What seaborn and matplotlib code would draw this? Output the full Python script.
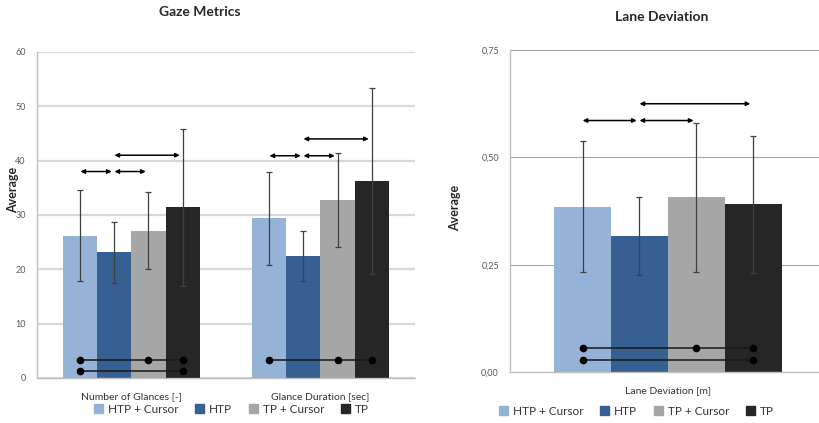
import numpy as np
import pandas as pd
import matplotlib
matplotlib.use('Agg')
import matplotlib.pyplot as plt
from matplotlib.ticker import MultipleLocator, FuncFormatter
import seaborn as sns

# --- Data ---
conditions = ['HTP + Cursor', 'HTP', 'TP + Cursor', 'TP']
colors = ['#95b3d7', '#366092', '#a6a6a6', '#262626']

gaze_metrics = ['Number of Glances [-]', 'Glance Duration [sec]']
glances_mean = [26.2, 23.1, 27.1, 31.4]
glances_err = [8.4, 5.7, 7.1, 14.5]
duration_mean = [29.4, 22.5, 32.8, 36.3]
duration_err = [8.6, 4.6, 8.6, 17.1]

lane_metrics = ['Lane Deviation [m]']
lane_mean = [0.386, 0.318, 0.407, 0.391]
lane_err = [0.153, 0.091, 0.173, 0.160]

# significance arrows: (metric, from condition, to condition, height)
gaze_arrows = [
    ('Number of Glances [-]', 'HTP + Cursor', 'HTP', 38.0),
    ('Number of Glances [-]', 'HTP', 'TP + Cursor', 38.0),
    ('Number of Glances [-]', 'HTP', 'TP', 41.0),
    ('Glance Duration [sec]', 'HTP + Cursor', 'HTP', 40.9),
    ('Glance Duration [sec]', 'HTP', 'TP + Cursor', 40.9),
    ('Glance Duration [sec]', 'HTP', 'TP', 44.0),
]
lane_arrows = [
    ('Lane Deviation [m]', 'HTP + Cursor', 'HTP', 0.586),
    ('Lane Deviation [m]', 'HTP', 'TP + Cursor', 0.586),
    ('Lane Deviation [m]', 'HTP', 'TP', 0.625),
]

# connected dots: (metric, conditions, height)
gaze_dots = [
    ('Number of Glances [-]', ['HTP + Cursor', 'TP + Cursor', 'TP'], 3.3),
    ('Number of Glances [-]', ['HTP + Cursor', 'TP'], 1.2),
    ('Glance Duration [sec]', ['HTP + Cursor', 'TP + Cursor', 'TP'], 3.3),
]
lane_dots = [
    ('Lane Deviation [m]', ['HTP + Cursor', 'TP + Cursor', 'TP'], 0.057),
    ('Lane Deviation [m]', ['HTP + Cursor', 'TP'], 0.030),
]

gaze_df = pd.DataFrame({
    'metric': np.repeat(gaze_metrics, 4),
    'condition': conditions * 2,
    'mean': glances_mean + duration_mean,
    'err': glances_err + duration_err,
})
lane_df = pd.DataFrame({
    'metric': lane_metrics * 4,
    'condition': conditions,
    'mean': lane_mean,
    'err': lane_err,
})

sns.set_style('white')
plt.rcParams['font.family'] = ['Lato', 'DejaVu Sans']

fig = plt.figure(figsize=(8.2, 4.23), dpi=100)
ax1 = fig.add_axes([0.0451, 0.1064, 0.461, 0.7707])
ax2 = fig.add_axes([0.622, 0.1194, 0.385, 0.7624])


def draw_panel(ax, df, metrics, arrows, dots, grid_color, grid_lw):
    sns.barplot(data=df, x='metric', y='mean', hue='condition', order=metrics,
                hue_order=conditions, palette=colors, saturation=1,
                width=0.72, errorbar=None, linewidth=0, ax=ax, zorder=2)
    centers = {}
    for cond, cont in zip(conditions, ax.containers):
        for metric, bar in zip(metrics, cont):
            cx = bar.get_x() + bar.get_width() / 2
            centers[(metric, cond)] = cx
            err = df[(df.metric == metric) & (df.condition == cond)]['err'].iloc[0]
            ax.errorbar(cx, bar.get_height(), yerr=err, color='#404040',
                        lw=0.9, capsize=2, capthick=0.9, zorder=3)
    for metric, a, b, y in arrows:
        ax.annotate('', xy=(centers[(metric, b)], y), xytext=(centers[(metric, a)], y),
                    arrowprops=dict(arrowstyle='<|-|>', color='black', lw=1.1,
                                    mutation_scale=6, shrinkA=0, shrinkB=2),
                    zorder=4)
    for metric, conds, y in dots:
        xs = [centers[(metric, c)] for c in conds]
        ax.plot([xs[0], xs[-1]], [y, y], color='#1a1a1a', lw=1.4, alpha=0.8, zorder=4)
        ax.plot(xs, [y] * len(xs), ls='none', marker='o', ms=4.5, color='black', zorder=5)
    ax.set_xlim(-0.5, len(metrics) - 0.5)
    ax.set_xlabel('')
    ax.set_ylabel('')
    ax.legend_.remove()
    ax.yaxis.grid(True, color=grid_color, lw=grid_lw, zorder=0)
    ax.set_axisbelow(True)
    for s in ['top', 'right']:
        ax.spines[s].set_visible(False)
    for s in ['left', 'bottom']:
        ax.spines[s].set_color('#bfbfbf')
        ax.spines[s].set_linewidth(1.0)
    ax.tick_params(axis='x', length=0, pad=10, labelsize=7.5, labelcolor='#333333')
    ax.set_xticks(np.arange(len(metrics) + 1) - 0.5, minor=True)
    ax.tick_params(axis='x', which='minor', length=4, color='#bfbfbf', direction='out')
    ax.tick_params(axis='y', length=0, pad=8, labelsize=6.5, labelcolor='#595959')
    ax.tick_params(axis='y', which='minor', length=2, color='#bfbfbf', direction='in')


draw_panel(ax1, gaze_df, gaze_metrics, gaze_arrows, gaze_dots, '#d9d9d9', 1.6)
ax1.set_ylim(0, 60)
ax1.set_yticks(range(0, 61, 10))
ax1.yaxis.set_minor_locator(MultipleLocator(2))

draw_panel(ax2, lane_df, lane_metrics, lane_arrows, lane_dots, '#a6a6a6', 0.8)
ax2.set_ylim(0, 0.75)
ax2.set_yticks([0, 0.25, 0.5, 0.75])
ax2.yaxis.set_major_formatter(FuncFormatter(lambda v, p: f'{v:.2f}'.replace('.', ',')))
ax2.yaxis.set_minor_locator(MultipleLocator(0.1))

fig.text(0.244, 0.972, 'Gaze Metrics', ha='center', va='center', fontsize=10, fontweight='bold')
fig.text(0.807, 0.960, 'Lane Deviation', ha='center', va='center', fontsize=10, fontweight='bold')
fig.text(13 / 820, 1 - 190 / 423, 'Average', rotation=90, ha='center', va='center',
         fontsize=9, fontweight='bold')
fig.text(455 / 820, 1 - 208 / 423, 'Average', rotation=90, ha='center', va='center',
         fontsize=9, fontweight='bold')

handles = [plt.Rectangle((0, 0), 1, 1, color=c) for c in colors]
for cx, cy in [(0.282, 0.033), (0.776, 0.028)]:
    fig.legend(handles, conditions, loc='center', bbox_to_anchor=(cx, cy), ncol=4,
               frameon=False, fontsize=8.5, handlelength=0.8, handleheight=0.8,
               handletextpad=0.4, columnspacing=1.4, labelcolor='#333333')

fig.savefig('out.png', dpi=100)
